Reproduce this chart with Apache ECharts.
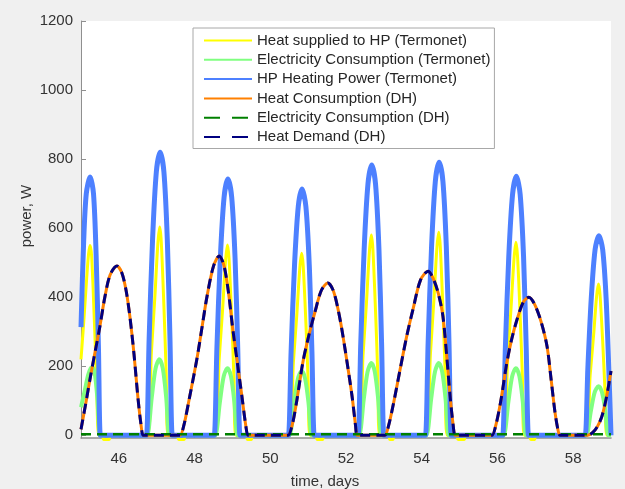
<!DOCTYPE html>
<html>
<head>
<meta charset="utf-8">
<script src="https://cdn.jsdelivr.net/npm/echarts@6/dist/echarts.min.js"></script>
<style>
  html, body { margin: 0; padding: 0; background: #f0f0f0; }
  #chart { width: 625px; height: 489px; }
</style>
</head>
<body>
<div id="chart"></div>
<script>
// ---- Data: [time (days), power (W)] ----
const xTicks = [46, 48, 50, 52, 54, 56, 58];
const yTicks = [0, 200, 400, 600, 800, 1000, 1200];

const seriesNames = [
  'Heat supplied to HP (Termonet)',
  'Electricity Consumption (Termonet)',
  'HP Heating Power (Termonet)',
  'Heat Consumption (DH)',
  'Electricity Consumption (DH)',
  'Heat Demand (DH)'
];

const heatSuppliedHP = [
  [45.00,220],[45.08,340],[45.15,455],[45.20,525],[45.24,550],[45.28,520],[45.35,340],[45.41,160],[45.47,0],[45.56,0],[45.60,-12],[45.74,-12],[45.78,0],
  [46.74,0],[46.86,241],[46.95,398],[47.03,555],[47.08,603],[47.12,561],[47.19,374],[47.25,181],[47.30,0],[47.54,0],[47.58,-12],[47.72,-12],[47.76,0],
  [48.53,0],[48.65,220],[48.74,364],[48.82,507],[48.87,551],[48.91,512],[48.98,342],[49.04,165],[49.09,0],[49.36,0],[49.40,-12],[49.50,-12],[49.54,0],
  [50.49,0],[50.61,211],[50.70,348],[50.78,485],[50.83,527],[50.87,490],[50.94,327],[51.00,158],[51.05,0],[51.20,0],[51.24,-12],[51.38,-12],[51.42,0],
  [52.33,0],[52.45,232],[52.54,383],[52.62,534],[52.67,580],[52.71,539],[52.78,360],[52.84,174],[52.89,0],[53.12,0],[53.16,-12],[53.24,-12],[53.28,0],
  [54.11,0],[54.23,235],[54.32,388],[54.40,541],[54.45,588],[54.49,547],[54.56,365],[54.62,176],[54.67,0],[54.92,0],[54.96,-12],[55.12,-12],[55.16,0],
  [56.15,0],[56.27,224],[56.36,369],[56.44,514],[56.49,559],[56.53,520],[56.60,347],[56.66,168],[56.71,0],[56.84,0],[56.88,-12],[56.98,-12],[57.02,0],
  [58.33,0],[58.45,175],[58.54,289],[58.62,403],[58.67,438],[58.71,407],[58.78,272],[58.84,131],[58.89,0],[59.00,0]
];

const elecTermonet = [
  [45.00,81],[45.10,130],[45.19,175],[45.26,195],[45.30,197],[45.36,182],[45.43,110],[45.50,0],[45.54,0],
  [46.71,0],[46.75,0],[46.87,110],[46.97,194],[47.07,220],[47.16,194],[47.25,110],[47.33,0],[47.37,0],
  [48.51,0],[48.55,0],[48.67,97],[48.77,171],[48.87,194],[48.96,171],[49.05,97],[49.13,0],[49.17,0],
  [50.47,0],[50.51,0],[50.63,93],[50.73,164],[50.83,186],[50.92,164],[51.01,93],[51.09,0],[51.13,0],
  [52.31,0],[52.35,0],[52.47,105],[52.57,184],[52.67,209],[52.76,184],[52.85,105],[52.93,0],[52.97,0],
  [54.09,0],[54.13,0],[54.25,105],[54.35,184],[54.45,209],[54.54,184],[54.63,105],[54.71,0],[54.75,0],
  [56.13,0],[56.17,0],[56.29,97],[56.39,171],[56.49,194],[56.58,171],[56.67,97],[56.75,0],[56.79,0],
  [58.31,0],[58.35,0],[58.47,71],[58.57,125],[58.67,142],[58.76,125],[58.85,71],[58.93,0],[59.00,0]
];

const hpHeatingPower = [
  [45.00,313],[45.07,560],[45.14,700],[45.24,748],[45.33,700],[45.40,520],[45.46,260],[45.51,0],[45.55,0],
  [46.69,0],[46.73,0],[46.80,279],[46.89,566],[46.99,763],[47.09,820],[47.19,763],[47.28,566],[47.35,279],[47.41,0],[47.45,0],
  [48.48,0],[48.52,0],[48.59,252],[48.68,512],[48.78,690],[48.88,742],[48.98,690],[49.07,512],[49.14,252],[49.20,0],[49.24,0],
  [50.44,0],[50.48,0],[50.55,242],[50.64,492],[50.74,663],[50.84,713],[50.94,663],[51.03,492],[51.10,242],[51.16,0],[51.20,0],
  [52.28,0],[52.32,0],[52.39,266],[52.48,540],[52.58,728],[52.68,783],[52.78,728],[52.87,540],[52.94,266],[53.00,0],[53.04,0],
  [54.06,0],[54.10,0],[54.17,269],[54.26,546],[54.36,736],[54.46,791],[54.56,736],[54.65,546],[54.72,269],[54.78,0],[54.82,0],
  [56.10,0],[56.14,0],[56.21,255],[56.30,518],[56.40,698],[56.50,750],[56.60,698],[56.69,518],[56.76,255],[56.82,0],[56.86,0],
  [58.28,0],[58.32,0],[58.39,197],[58.48,399],[58.58,538],[58.68,578],[58.78,538],[58.87,399],[58.94,197],[59.00,0]
];

const heatConsumptionDH = [
  [45.00,17],[45.13,95],[45.25,170],[45.37,240],[45.50,316],[45.63,400],[45.77,465],[45.95,490],[46.08,470],[46.19,420],[46.29,345],[46.40,235],[46.50,113],[46.58,35],[46.64,0],[46.70,0],
  [47.56,0],[47.62,0],[47.72,30],[47.85,100],[48.06,220],[48.20,315],[48.33,403],[48.50,490],[48.65,519],[48.78,490],[48.90,410],[49.01,307],[49.13,210],[49.25,113],[49.35,30],[49.41,0],[49.47,0],
  [50.41,0],[50.47,0],[50.58,30],[50.70,100],[50.86,211],[51.02,290],[51.18,357],[51.35,420],[51.52,441],[51.66,420],[51.78,370],[51.89,307],[52.03,210],[52.16,113],[52.25,30],[52.29,0],[52.35,0],
  [52.97,0],[53.03,0],[53.13,30],[53.26,95],[53.43,191],[53.60,285],[53.77,365],[53.97,450],[54.17,475],[54.30,455],[54.44,410],[54.56,345],[54.66,230],[54.75,113],[54.83,30],[54.88,0],[54.94,0],
  [55.80,0],[55.86,0],[55.96,30],[56.09,100],[56.25,211],[56.38,280],[56.52,336],[56.68,385],[56.83,400],[56.98,380],[57.15,330],[57.31,258],[57.42,160],[57.52,67],[57.60,15],[57.65,0],[57.71,0],
  [58.33,0],[58.39,0],[58.52,8],[58.64,25],[58.76,55],[58.88,110],[59.00,186]
];

const elecDH = [[45.00,3],[59.00,3]];

const heatDemandDH = [
  [45.00,17],[45.13,95],[45.25,170],[45.37,240],[45.50,316],[45.63,400],[45.77,465],[45.95,490],[46.08,470],[46.19,420],[46.29,345],[46.40,235],[46.50,113],[46.58,35],[46.64,0],[46.70,0],
  [47.56,0],[47.62,0],[47.72,30],[47.85,100],[48.06,220],[48.20,315],[48.33,403],[48.50,490],[48.65,519],[48.78,490],[48.90,410],[49.01,307],[49.13,210],[49.25,113],[49.35,30],[49.41,0],[49.47,0],
  [50.41,0],[50.47,0],[50.58,30],[50.70,100],[50.86,211],[51.02,290],[51.18,357],[51.35,420],[51.52,441],[51.66,420],[51.78,370],[51.89,307],[52.03,210],[52.16,113],[52.25,30],[52.29,0],[52.35,0],
  [52.97,0],[53.03,0],[53.13,30],[53.26,95],[53.43,191],[53.60,285],[53.77,365],[53.97,450],[54.17,475],[54.30,455],[54.44,410],[54.56,345],[54.66,230],[54.75,113],[54.83,30],[54.88,0],[54.94,0],
  [55.80,0],[55.86,0],[55.96,30],[56.09,100],[56.25,211],[56.38,280],[56.52,336],[56.68,385],[56.83,400],[56.98,380],[57.15,330],[57.31,258],[57.42,160],[57.52,67],[57.60,15],[57.65,0],[57.71,0],
  [58.33,0],[58.39,0],[58.52,8],[58.64,25],[58.76,55],[58.88,110],[59.00,186]
];

// ---- Styling ----
const FONT = "'Liberation Sans', Arial, Helvetica, sans-serif";
const TXT = '#333333';
const AXIS = '#8f8f8f';

const chart = echarts.init(document.getElementById('chart'), null, { renderer: 'canvas', width: 625, height: 489 });

function lineSeries(name, data, color, width, type, extra) {
  return Object.assign({
    name: name,
    type: 'line',
    data: data,
    showSymbol: false,
    symbol: 'none',
    smooth: 0.3,
    animation: false,
    lineStyle: { color: color, width: width, type: type, cap: 'butt', join: 'round' },
    itemStyle: { color: color },
    emphasis: { disabled: true }
  }, extra || {});
}

const plain = v => String(v);

const option = {
  backgroundColor: '#f0f0f0',
  animation: false,
  textStyle: { fontFamily: FONT },
  grid: {
    left: 81, right: 14, top: 21, bottom: 51,
    show: true, backgroundColor: '#ffffff', borderWidth: 0,
    containLabel: false,
    outerBoundsMode: 'none'
  },
  legend: {
    orient: 'vertical',
    left: 193, top: 28,
    padding: [5, 4, 4, 10],
    itemWidth: 48, itemHeight: 14, itemGap: 4.3,
    backgroundColor: '#ffffff',
    borderColor: '#a8a8a8', borderWidth: 1, borderRadius: 0,
    textStyle: { fontFamily: FONT, fontSize: 15, color: '#262626' },
    itemStyle: { opacity: 0, color: 'transparent', borderWidth: 0 },
    selectedMode: false,
    data: [
      { name: seriesNames[0] },
      { name: seriesNames[1] },
      { name: seriesNames[2] },
      { name: seriesNames[3] },
      { name: seriesNames[4], lineStyle: { type: [16, 12] } },
      { name: seriesNames[5], lineStyle: { type: [16, 12] } }
    ]
  },
  xAxis: {
    type: 'value',
    min: 45, max: 59,
    name: 'time, days',
    nameLocation: 'middle',
    nameGap: 36,
    nameMoveOverlap: false,
    nameTextStyle: { fontFamily: FONT, fontSize: 15, color: TXT, padding: [0, 42, 0, 0] },
    axisLine: { show: true, onZero: false, lineStyle: { color: AXIS, width: 1.5 } },
    axisTick: { show: true, inside: true, length: 5, lineStyle: { color: AXIS }, customValues: xTicks },
    axisLabel: { fontFamily: FONT, fontSize: 15, color: TXT, margin: 13, customValues: xTicks, formatter: plain },
    splitLine: { show: false }
  },
  yAxis: {
    type: 'value',
    min: -8, max: 1200,
    name: 'power, W',
    nameLocation: 'middle',
    nameGap: 47,
    nameMoveOverlap: false,
    nameTextStyle: { fontFamily: FONT, fontSize: 15, color: TXT, padding: [0, 0, 0, 27] },
    axisLine: { show: true, lineStyle: { color: AXIS, width: 1 } },
    axisTick: { show: true, inside: true, length: 5, lineStyle: { color: AXIS }, customValues: yTicks },
    axisLabel: { fontFamily: FONT, fontSize: 15, color: TXT, margin: 8, customValues: yTicks, formatter: plain },
    splitLine: { show: false }
  },
  series: [
    lineSeries(seriesNames[0], heatSuppliedHP, '#ffff00', 3, 'solid', { clip: false }),
    lineSeries(seriesNames[1], elecTermonet, '#80ff80', 4, 'solid'),
    lineSeries(seriesNames[2], hpHeatingPower, '#4d80ff', 5, 'solid'),
    lineSeries(seriesNames[3], heatConsumptionDH, '#ff8000', 3, 'solid'),
    lineSeries(seriesNames[4], elecDH, '#008000', 2.5, [10, 6], { smooth: false }),
    lineSeries(seriesNames[5], heatDemandDH, '#000080', 3, [10, 6])
  ]
};

chart.setOption(option);
</script>
</body>
</html>
